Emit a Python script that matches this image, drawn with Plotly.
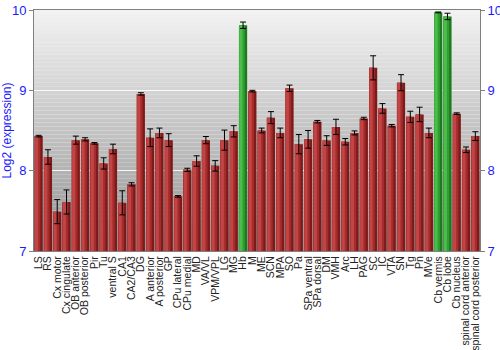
import plotly.graph_objects as go

categories = ["LS", "RS", "Cx motor", "Cx cingulate", "OB anterior", "OB posterior", "Pir", "Tu",
              "ventral S", "CA1", "CA2/CA3", "DG", "A anterior", "A posterior", "GP", "CPu lateral",
              "CPu medial", "MD", "VA/VL", "VPM/VPL", "LG", "MG", "Hb", "M", "ME", "SCN", "MPA", "SO",
              "Pa", "SPa ventral", "SPa dorsal", "DM", "VMH", "Arc", "LH", "PAG", "SC", "IC", "VTA",
              "SN", "Tg", "Pn", "MVe", "Cb vermis", "Cb lobe", "Cb nucleus",
              "spinal cord anterior", "spinal cord posterior"]
values = [8.43, 8.17, 7.49, 7.61, 8.38, 8.39, 8.34, 8.09,
          8.27, 7.60, 7.83, 8.955, 8.41, 8.47, 8.38, 7.68,
          8.01, 8.12, 8.38, 8.06, 8.38, 8.49, 9.81, 8.99, 8.50, 8.66, 8.47, 9.025,
          8.33, 8.39, 8.61, 8.375, 8.545, 8.36, 8.47, 8.65, 9.28, 8.775, 8.56,
          9.095, 8.67, 8.70, 8.47, 9.97, 9.92, 8.71,
          8.26, 8.43]
errors = [0.01, 0.09, 0.15, 0.15, 0.05, 0.02, 0.01, 0.07,
          0.06, 0.15, 0.02, 0.015, 0.11, 0.06, 0.08, 0.01,
          0.02, 0.065, 0.045, 0.065, 0.125, 0.07, 0.04, 0.01, 0.03, 0.075, 0.06, 0.04,
          0.12, 0.11, 0.015, 0.06, 0.095, 0.04, 0.025, 0.015, 0.15, 0.06, 0.015,
          0.1, 0.07, 0.09, 0.06, 0.005, 0.04, 0.01,
          0.035, 0.055]
y_ticks = [7, 8, 9, 10]
highlight = ["Hb", "Cb vermis", "Cb lobe"]

def shade(level):
    red = ["#7e1a1a", "#a52c2c", "#c24444"]
    green = ["#1f7a1f", "#2fa02f", "#4cbc4c"]
    return [green[level] if c in highlight else red[level] for c in categories]

n = len(categories)
fig = go.Figure()
layers = [(0.88, -0.44, 0), (0.62, -0.44, 1), (0.34, -0.40, 2)]
for w, off, lvl in layers:
    fig.add_trace(go.Bar(x=categories, y=values, width=[w] * n, offset=[off] * n,
                         marker=dict(color=shade(lvl), line=dict(width=0)),
                         hoverinfo="skip", showlegend=False))
fig.add_trace(go.Scatter(x=categories, y=values, mode="markers",
                         marker=dict(size=0.1, color="rgba(0,0,0,0)"),
                         error_y=dict(type="data", array=errors, color="black", thickness=1, width=3),
                         showlegend=False))
fig.add_trace(go.Scatter(x=[categories[0]], y=[values[0]], yaxis="y2", mode="markers",
                         marker=dict(color="rgba(0,0,0,0)"), showlegend=False, hoverinfo="skip"))

steps = 60
shapes = []
for i in range(steps):
    t = i / (steps - 1)
    g = int(round(242 - (242 - 148) * t))
    shapes.append(dict(type="rect", xref="paper", yref="paper", x0=0, x1=1,
                       y0=1 - (i + 1) / steps, y1=1 - i / steps, layer="below",
                       line=dict(width=0), fillcolor=f"rgb({g},{g},{g})"))

FONT = "Liberation Sans, Arial, sans-serif"
tickfont = dict(family=FONT, size=13, color="#1a1aff")
fig.update_layout(
    width=500, height=350,
    margin=dict(l=34, r=20, t=10, b=99),
    paper_bgcolor="white", plot_bgcolor="rgba(0,0,0,0)",
    barmode="overlay", bargap=0.1,
    shapes=shapes,
    xaxis=dict(tickangle=-90, tickfont=dict(family=FONT, size=10.5, color="#222"),
               tickmode="array", tickvals=categories, ticktext=categories,
               showgrid=False, showline=True, mirror=True, linecolor="#808080", ticks="",
               range=[-0.5, n - 0.5], automargin=False),
    yaxis=dict(range=[7, 10], tickvals=y_ticks, showgrid=True,
               gridcolor="rgba(255,255,255,0.85)", gridwidth=1,
               showline=True, linecolor="#808080", ticks="outside", ticklen=4, tickcolor="#808080",
               tickfont=tickfont, zeroline=False, automargin=False,
               title=dict(text="Log2 (expression)", font=dict(family=FONT, size=12, color="#1a1aff"),
                          standoff=4)),
    yaxis2=dict(range=[7, 10], tickvals=y_ticks, overlaying="y", side="right",
                showgrid=False, showline=True, linecolor="#808080", ticks="outside", ticklen=4,
                tickcolor="#808080", tickfont=tickfont, zeroline=False, automargin=False),
)
fig.write_html("out.html")
